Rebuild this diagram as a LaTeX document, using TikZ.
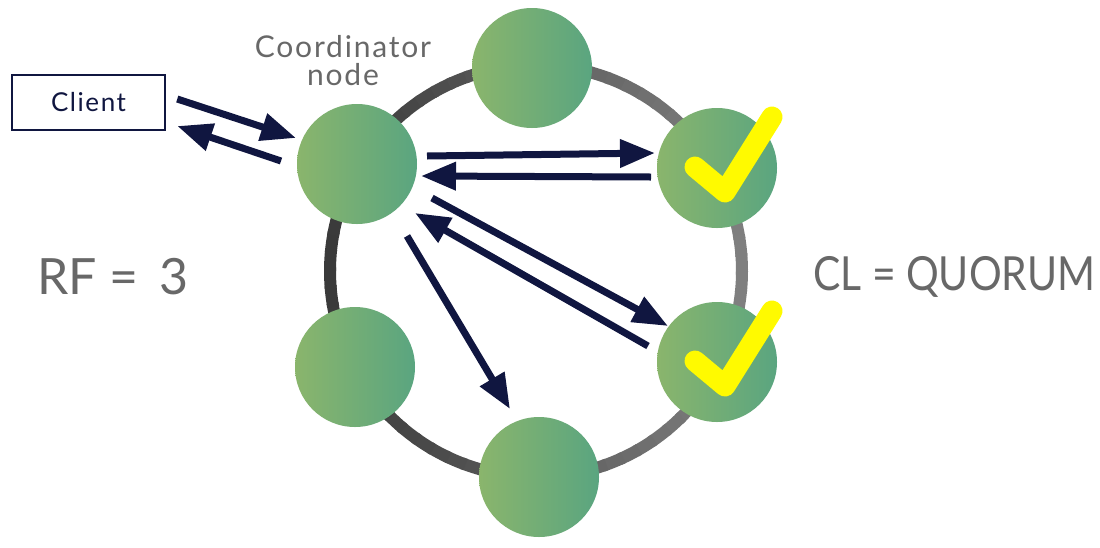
\documentclass[tikz,border=0pt]{standalone}
\usepackage{fontspec}
\setmainfont{Lato}
\newfontfamily\widefont[LetterSpace=6]{Lato}
\newfontfamily\narrowfont[FakeStretch=0.87]{Lato}
\usetikzlibrary{arrows.meta,calc}
\definecolor{navy}{RGB}{16,22,64}
\definecolor{gL}{RGB}{138,181,108}
\definecolor{gR}{RGB}{90,165,128}
\definecolor{ringL}{RGB}{58,58,58}
\definecolor{ringR}{RGB}{128,128,128}
\definecolor{txtgray}{RGB}{104,104,104}
\definecolor{chk}{RGB}{255,250,0}
\begin{document}
\begin{tikzpicture}[x=1pt,y=-1pt,
  replica/.style={circle, minimum size=120pt, inner sep=0pt, left color=gL, right color=gR},
  arr/.style={draw=navy, line width=7pt, -{Triangle[length=35pt,width=27pt]}},
  check/.style={draw=chk, line width=21pt, line cap=round, line join=round},
  lbl/.style={text=txtgray, inner sep=0pt},
  clientbox/.style={draw=navy, line width=2.5pt, minimum width=153pt, minimum height=55pt, inner sep=0pt, text=navy}]
\useasboundingbox (0,0) rectangle (1100,547);
\fill[white] (0,0) rectangle (1100,547);
% ring
\coordinate (ringc) at (536,271);
\foreach \a in {0,5,...,355}{
  \pgfmathsetmacro\p{int(50+50*cos(\a+3))}
  \draw[line width=12pt, ringR!\p!ringL] (ringc) ++(\a:206) arc[start angle=\a, delta angle=6, radius=206];
}
% nodes
\node[replica] (coord) at (357,164) {};
\node[replica] (n1) at (532,68) {};
\node[replica] (n2) at (717,168) {};
\node[replica] (n3) at (717,362) {};
\node[replica] (n4) at (539,477) {};
\node[replica] (n5) at (355,367) {};
% client
\node[clientbox, font=\widefont\fontsize{26}{28}\selectfont] (client) at (88.5,102.5) {Client};
% labels
\node[lbl, align=center, font=\widefont\fontsize{30}{28}\selectfont] (coordlbl) at (343,61) {Coordinator\\node};
\node[lbl, anchor=base west, font=\fontsize{50}{56}\selectfont] (rf) at (37,294) {RF =\, 3};
\node[lbl, anchor=base west, font=\narrowfont\fontsize{47}{54}\selectfont] (cl) at (813,290) {CL = QUORUM};
% arrows
\draw[arr] ($(client.east)+(11,-3.5)$) -- ($(coord)+(-61,-26)$);
\draw[arr] ($(coord)+(-76,-3)$) -- ($(client.east)+(11,23.5)$);
\draw[arr] ($(coord)+(70,-8)$) -- ($(n2)+(-62,-15)$);
\draw[arr] ($(n2)+(-66,9)$) -- ($(coord)+(64,12)$);
\draw[arr] ($(coord)+(75,34)$) -- ($(n3)+(-49,-36)$);
\draw[arr] ($(n3)+(-69,-16)$) -- ($(coord)+(58,49)$);
\draw[arr] ($(coord)+(50,72)$) -- ($(n4)+(-29,-68)$);
% checks
\draw[check] ($(n2)+(-22,-1)$) -- ++(30,25) -- ++(47,-75);
\draw[check] ($(n3)+(-22,-1)$) -- ++(30,25) -- ++(47,-75);
\end{tikzpicture}
\end{document}
